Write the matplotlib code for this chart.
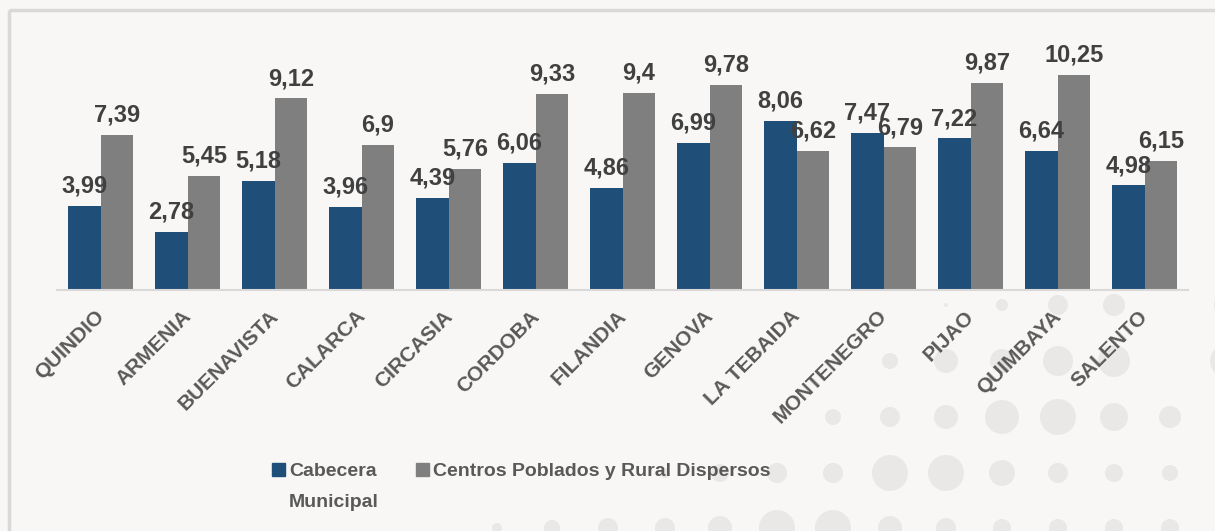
import matplotlib
matplotlib.use("Agg")
import matplotlib.pyplot as plt
from matplotlib import transforms
from matplotlib.patches import Circle, Rectangle, Patch
import numpy as np

# datos del grafico
municipios = ["QUINDIO", "ARMENIA", "BUENAVISTA", "CALARCA", "CIRCASIA", "CORDOBA",
              "FILANDIA", "GENOVA", "LA TEBAIDA", "MONTENEGRO", "PIJAO", "QUIMBAYA", "SALENTO"]
cabecera = [3.99, 2.78, 5.18, 3.96, 4.39, 6.06, 4.86, 6.99, 8.06, 7.47, 7.22, 6.64, 4.98]
rural = [7.39, 5.45, 9.12, 6.90, 5.76, 9.33, 9.40, 9.78, 6.62, 6.79, 9.87, 10.25, 6.15]
etiquetas_cab = ["3,99", "2,78", "5,18", "3,96", "4,39", "6,06", "4,86", "6,99", "8,06", "7,47", "7,22", "6,64", "4,98"]
etiquetas_rur = ["7,39", "5,45", "9,12", "6,9", "5,76", "9,33", "9,4", "9,78", "6,62", "6,79", "9,87", "10,25", "6,15"]
series = ["Cabecera", "Centros Poblados y Rural Dispersos"]

AZUL = "#1f4e79"
GRIS = "#7f7f7f"
FONDO = "#f8f7f5"

plt.rcParams["font.family"] = ["Liberation Sans", "DejaVu Sans"]

W, H = 1215, 531
fig = plt.figure(figsize=(W / 100, H / 100), dpi=100, facecolor=FONDO)

# fondo decorativo (circulos y marco)
deco = fig.add_axes([0, 0, 1, 1], zorder=0)
deco.set_xlim(0, W)
deco.set_ylim(H, 0)
deco.axis("off")
puntos = [
    (946, 305, 2), (1002, 305, 6), (1058, 305, 10), (1114, 305, 11), (1226, 305, 12),
    (833, 361, 2), (890, 361, 8), (946, 361, 12), (1002, 361, 12), (1058, 361, 15), (1114, 361, 16), (1226, 361, 16),
    (833, 417, 8), (890, 417, 10), (946, 417, 12), (1002, 417, 17), (1058, 417, 18), (1114, 417, 14), (1170, 417, 11),
    (665, 473, 5), (720, 473, 9), (777, 473, 10), (833, 473, 10), (890, 473, 18), (946, 473, 18),
    (1002, 473, 13), (1058, 473, 10), (1114, 473, 9), (1170, 473, 8),
    (497, 528, 5), (552, 528, 8), (608, 528, 10), (665, 528, 10), (720, 528, 12), (777, 528, 18),
    (833, 528, 18), (890, 528, 12), (946, 528, 10), (1002, 528, 9), (1058, 528, 9), (1114, 528, 9), (1170, 528, 9),
]
for x, y, r in puntos:
    deco.add_patch(Circle((x, y), r, color="#e9e8e6", lw=0))
deco.add_patch(Rectangle((9, 10), W + 20, H + 20, fill=False, ec="#d9d9d9", lw=2.5))

# grafico de barras
ax = fig.add_axes([57 / W, 1 - 290 / H, (1188 - 57) / W, (290 - 20) / H], zorder=1)
ax.patch.set_alpha(0)
x = np.arange(len(municipios))
ancho = 0.375
b1 = ax.bar(x - ancho / 2, cabecera, ancho, color=AZUL)
b2 = ax.bar(x + ancho / 2, rural, ancho, color=GRIS)

for barras, textos in [(b1, etiquetas_cab), (b2, etiquetas_rur)]:
    for barra, t in zip(barras, textos):
        ax.annotate(t, (barra.get_x() + barra.get_width() / 2, barra.get_height()),
                    xytext=(0, 6), textcoords="offset points", ha="center", va="bottom",
                    fontsize=17, fontweight="bold", color="#404040")

ax.set_xlim(-0.5, len(municipios) - 0.5)
ax.set_ylim(0, 270 / 21.0)
ax.set_yticks([])
for s in ["top", "right", "left"]:
    ax.spines[s].set_visible(False)
ax.spines["bottom"].set_color("#d9d9d9")
ax.spines["bottom"].set_linewidth(1.5)
ax.set_xticks(x)
ax.set_xticklabels(municipios, rotation=45, ha="right", rotation_mode="anchor",
                   fontsize=15, fontweight="bold", color="#595959")
ax.tick_params(axis="x", length=0, pad=12)
desplazar = transforms.ScaledTranslation(-6 / 100, 0, fig.dpi_scale_trans)
for lab in ax.get_xticklabels():
    lab.set_transform(lab.get_transform() + desplazar)

# leyenda
leg = fig.legend([Patch(color=AZUL), Patch(color=GRIS)], series, ncol=2,
                 loc="upper left", bbox_to_anchor=(254 / W, 1 - 445 / H),
                 frameon=False, handlelength=0.7, handleheight=0.7, handletextpad=0.2,
                 columnspacing=2.0,
                 prop={"weight": "bold", "size": 14})
for t in leg.get_texts():
    t.set_color("#595959")
fig.canvas.draw()
bb = leg.get_texts()[0].get_window_extent()
fig.text(bb.x0 / W, (bb.y0 - 31) / H, "Municipal", fontsize=14, fontweight="bold",
         color="#595959", ha="left", va="bottom")

fig.savefig("out.png", dpi=100, facecolor=FONDO)
